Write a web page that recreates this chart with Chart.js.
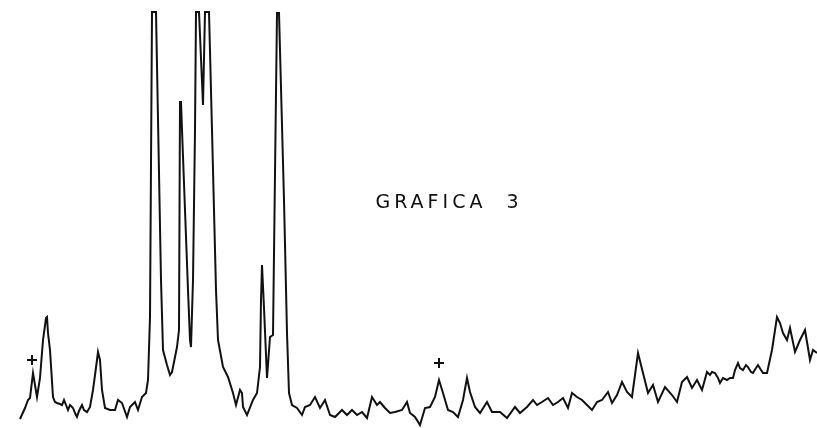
<!DOCTYPE html>
<html>
<head>
<meta charset="utf-8">
<script src="https://cdn.jsdelivr.net/npm/chart.js@4.4.1/dist/chart.umd.min.js"></script>
<style>
  html, body { margin: 0; padding: 0; background: #fff; }
  #wrap { width: 817px; height: 428px; position: relative; }
</style>
</head>
<body>
<div id="wrap"><canvas id="grafica"></canvas></div>
<script>
// trace, in four stretches: position along the paper / pen height
const posStart = [20, 25, 28, 30, 33, 37, 40, 43, 46, 47, 48, 50, 53, 55, 57, 60, 62, 64, 66, 68,
  70, 73, 75, 77, 79, 82, 84, 87, 90, 93, 97, 98, 100, 102, 105, 110, 115, 118, 122, 127,
  130, 135, 138, 142, 146, 148];
const sigStart = [9, 20, 28, 30, 55, 31, 50, 88, 110, 111, 95, 78, 31, 26, 25, 24, 23, 28, 23, 18,
  23, 20, 15, 11, 17, 23, 18, 16, 21, 38, 68, 76, 68, 38, 20, 18, 18, 28, 25, 11,
  21, 26, 18, 31, 35, 48];

const posPeaks = [150, 152, 156, 161, 163, 167, 170, 172, 177, 179, 180, 181, 182, 188, 190, 191, 193, 195, 196, 199,
  203, 205, 209, 212, 216, 218, 223, 228, 233, 236, 240, 242, 243, 247, 253, 257, 260, 261, 262, 264,
  267, 270, 273, 277, 279, 284, 287, 289, 292];
const sigPeaks = [111, 416, 416, 148, 78, 63, 53, 56, 81, 98, 326, 326, 298, 138, 88, 81, 148, 298, 416, 416,
  323, 416, 416, 298, 138, 88, 61, 51, 35, 23, 38, 35, 21, 13, 28, 35, 61, 128, 163, 120,
  50, 91, 93, 415, 415, 228, 95, 35, 23];

const posBase = [297, 302, 305, 310, 315, 320, 325, 330, 335, 342, 347, 352, 357, 362, 367, 372, 377, 380, 385, 390,
  395, 402, 407, 410, 415, 420, 425, 430, 435, 439, 443, 448, 453, 458, 463, 467, 470, 475, 480, 487,
  492, 500, 507, 515, 520, 527, 533, 537, 542, 548];
const sigBase = [20, 13, 21, 23, 31, 20, 28, 13, 11, 18, 13, 18, 13, 16, 10, 31, 23, 26, 20, 15,
  16, 18, 26, 15, 11, 3, 20, 21, 31, 48, 35, 18, 16, 11, 28, 50, 36, 21, 15, 26,
  16, 16, 10, 21, 15, 21, 28, 23, 26, 30];

const posRise = [553, 558, 563, 568, 572, 577, 582, 587, 592, 597, 602, 608, 612, 617, 622, 627, 632, 638, 643, 648,
  653, 658, 665, 672, 677, 682, 687, 692, 697, 702, 707, 710, 712, 715, 718, 720, 723, 727, 730, 733,
  735, 738, 740, 743, 746, 748, 751, 753, 756, 758, 761, 763, 767, 772, 777, 780, 783, 787, 790, 795,
  800, 805, 810, 813, 817];
const sigRise = [23, 26, 30, 20, 35, 31, 28, 23, 18, 26, 28, 36, 25, 33, 46, 36, 31, 75, 55, 35,
  43, 26, 41, 33, 26, 46, 51, 40, 48, 38, 56, 53, 56, 55, 50, 45, 50, 48, 50, 50,
  58, 65, 60, 58, 63, 61, 56, 55, 60, 63, 58, 55, 55, 78, 111, 105, 95, 88, 100, 76,
  88, 98, 68, 78, 75];

// the two "+" marks written on the paper
const crossPos = [32, 439];
const crossHeight = [68, 65];

const title = 'GRAFICA  3';

const pos = posStart.concat(posPeaks, posBase, posRise);
const signal = sigStart.concat(sigPeaks, sigBase, sigRise);
const trace = pos.map((x, i) => ({ x: x, y: signal[i] }));
const crosses = crossPos.map((x, i) => ({ x: x, y: crossHeight[i] }));

const titlePlugin = {
  id: 'titleText',
  afterDraw(chart) {
    const c = chart.ctx;
    c.save();
    c.font = '19px "DejaVu Sans"';
    c.fillStyle = '#111';
    c.textAlign = 'center';
    c.textBaseline = 'alphabetic';
    if ('letterSpacing' in c) c.letterSpacing = '4px';
    c.fillText(title, chart.scales.x.getPixelForValue(449), chart.scales.y.getPixelForValue(220));
    c.restore();
  }
};

new Chart(document.getElementById('grafica'), {
  type: 'scatter',
  data: {
    datasets: [{
      label: 'trazo',
      data: trace,
      showLine: true,
      borderColor: '#111',
      borderWidth: 2,
      pointRadius: 0,
      tension: 0
    }, {
      label: '+',
      data: crosses,
      pointStyle: 'cross',
      pointRadius: 5,
      borderColor: '#111',
      borderWidth: 2,
      showLine: false
    }]
  },
  options: {
    responsive: true,
    maintainAspectRatio: false,
    animation: false,
    layout: { padding: 0, autoPadding: false },
    scales: {
      x: { type: 'linear', min: 0, max: 817, display: false },
      y: { type: 'linear', min: 0, max: 428, display: false }
    },
    plugins: {
      legend: { display: false },
      tooltip: { enabled: false }
    }
  },
  plugins: [titlePlugin]
});
</script>
</body>
</html>
